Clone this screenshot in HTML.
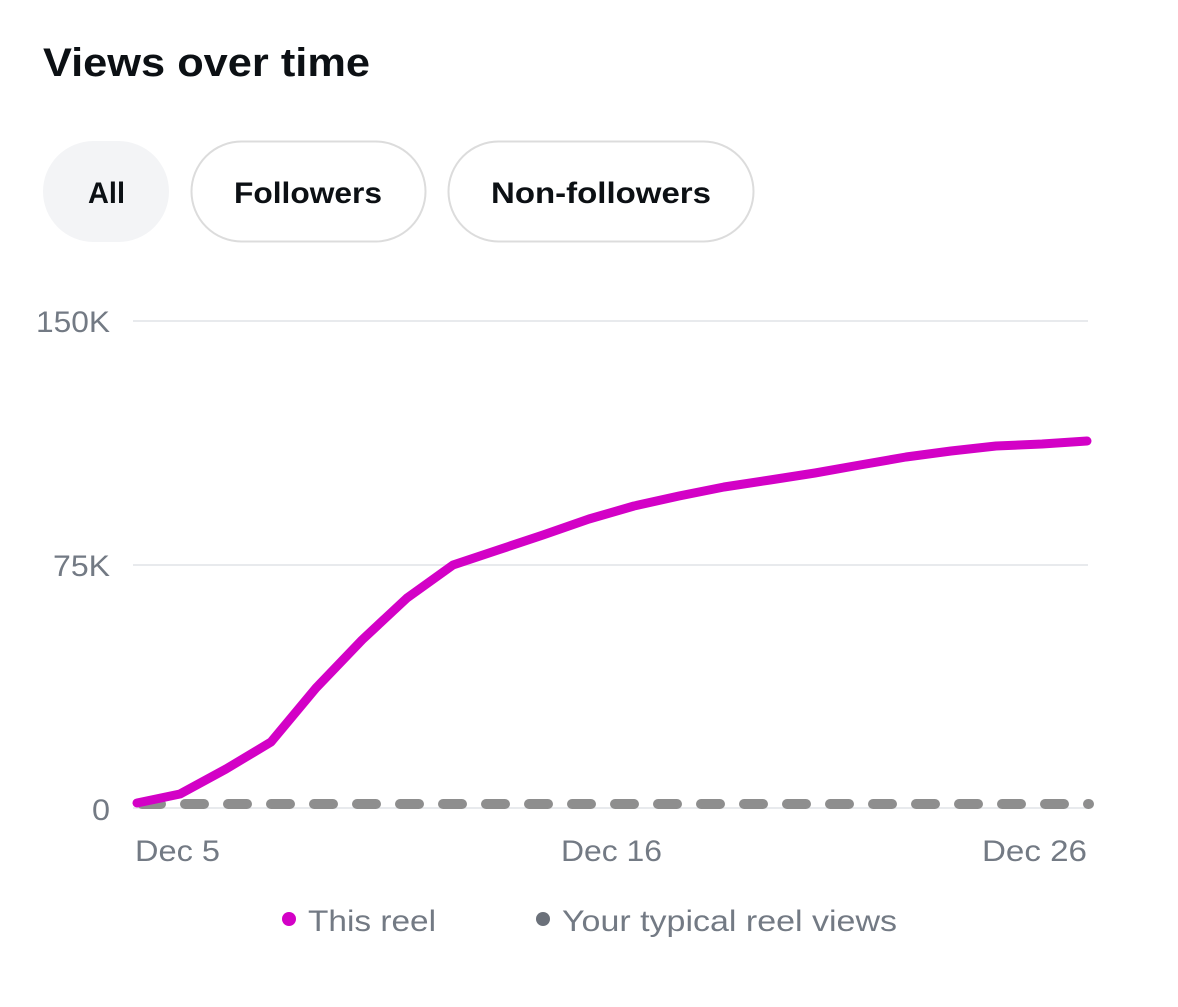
<!DOCTYPE html>
<html><head><meta charset="utf-8"><style>
body{margin:0;width:1178px;height:1007px;background:#fff;font-family:"Liberation Sans",sans-serif;overflow:hidden}
svg{position:absolute;left:0;top:0}
</style></head><body>
<svg width="1178" height="1007" viewBox="0 0 1178 1007">
<text x="43" y="76" font-size="40" font-weight="bold" fill="#0c1014" textLength="327" lengthAdjust="spacingAndGlyphs">Views over time</text>
<rect x="43" y="141" width="126" height="101" rx="50.5" fill="#f3f4f6"/>
<rect x="191.5" y="141.5" width="234" height="100" rx="50" fill="#fff" stroke="#dcdcdc" stroke-width="2"/>
<rect x="448.5" y="141.5" width="305" height="100" rx="50" fill="#fff" stroke="#dcdcdc" stroke-width="2"/>
<g font-size="30" font-weight="bold" fill="#0c1014">
<text x="88" y="203" textLength="37" lengthAdjust="spacingAndGlyphs">All</text>
<text x="234" y="203" textLength="148" lengthAdjust="spacingAndGlyphs">Followers</text>
<text x="491" y="203" textLength="220" lengthAdjust="spacingAndGlyphs">Non-followers</text>
</g>
<g stroke="#e8eaed" stroke-width="2">
<line x1="133" y1="321" x2="1088" y2="321"/>
<line x1="133" y1="565" x2="1088" y2="565"/>
<line x1="133" y1="808" x2="1088" y2="808"/>
</g>
<g font-size="30" fill="#737a84">
<text x="36" y="332" textLength="74" lengthAdjust="spacingAndGlyphs">150K</text>
<text x="53" y="576" textLength="57" lengthAdjust="spacingAndGlyphs">75K</text>
<text x="92" y="820" textLength="18" lengthAdjust="spacingAndGlyphs">0</text>
</g>
<line x1="142" y1="804" x2="1089" y2="804" stroke="#8e8e8e" stroke-width="10" stroke-linecap="round" stroke-dasharray="19 24"/>
<polyline fill="none" stroke="#d301c6" stroke-width="9" stroke-linejoin="round" stroke-linecap="round" points="137,803 180,794 226,769 271,742 316,688 362,640 407,598 453,565 498,550 543,535 589,519 634,506 679,496 724,487 770,480 815,473 860,465 906,457 951,451 996,446 1042,444 1087,441"/>
<g font-size="30" fill="#737a84">
<text x="135" y="861" textLength="85" lengthAdjust="spacingAndGlyphs">Dec 5</text>
<text x="561" y="861" textLength="101" lengthAdjust="spacingAndGlyphs">Dec 16</text>
<text x="982" y="861" textLength="105" lengthAdjust="spacingAndGlyphs">Dec 26</text>
</g>
<circle cx="289" cy="919" r="7" fill="#d301c6"/>
<text x="308" y="931" font-size="30" fill="#737a84" textLength="128" lengthAdjust="spacingAndGlyphs">This reel</text>
<circle cx="543" cy="919" r="7" fill="#6b717a"/>
<text x="562" y="931" font-size="30" fill="#737a84" textLength="335" lengthAdjust="spacingAndGlyphs">Your typical reel views</text>
</svg>
</body></html>
